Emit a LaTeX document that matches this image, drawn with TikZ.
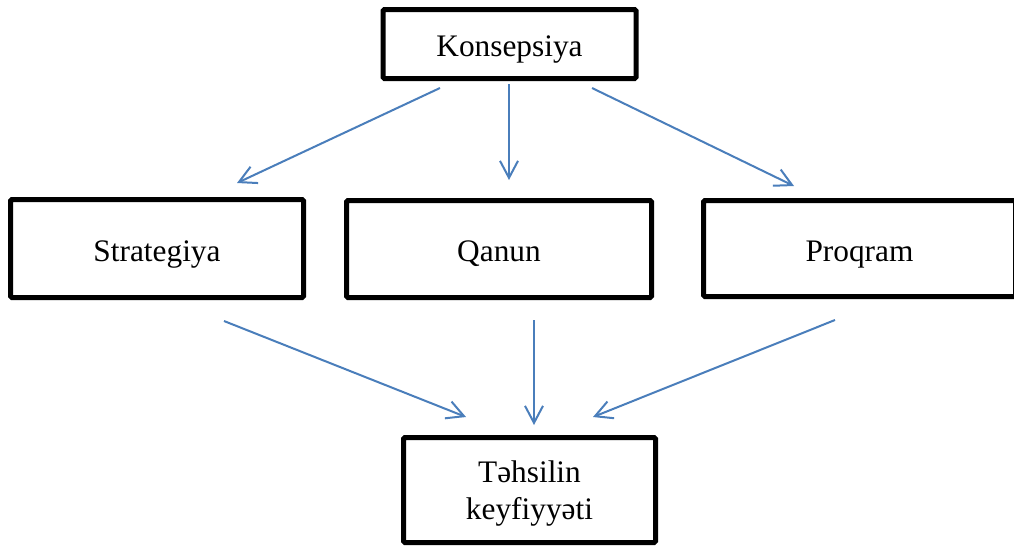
\documentclass[tikz,border=0pt]{standalone}
\usepackage{fontspec}
\setmainfont{Liberation Serif}
\usetikzlibrary{arrows.meta}
\definecolor{arrowblue}{RGB}{74,126,187}
\begin{document}
\begin{tikzpicture}[x=0.75pt,y=-0.75pt,
  box/.style={draw=black, line width=3.75pt, rounded corners=1pt, inner sep=0pt,
    font=\fontsize{23.5}{27.75}\selectfont, align=center},
  oneline/.style={text height=22pt, text depth=3.25pt},
  conn/.style={draw=arrowblue, line width=1.5pt,
    -{Straight Barb[length=12.75pt,width=13.5pt,line width=1.5pt]}}]
\useasboundingbox (0,0) rectangle (1014,547);
\node[box, oneline, minimum width=189.75pt, minimum height=51.75pt] (k) at (509.5,44) {Konsepsiya};
\node[box, oneline, minimum width=219.75pt, minimum height=73.5pt] (s) at (157,248.5) {Strategiya};
\node[box, oneline, minimum width=228.75pt, minimum height=72.75pt] (q) at (499,249) {Qanun};
\node[box, oneline, minimum width=234pt, minimum height=72pt] (p) at (859.5,248.5) {Proqram};
\node[box, text depth=-1.7pt, minimum width=189pt, minimum height=78.75pt] (t) at (529.5,490) {Təhsilin\\keyfiyyəti};
% connector end points
\coordinate (k1) at (440,88);  \coordinate (s1) at (237,183);
\coordinate (k2) at (509,84);  \coordinate (q1) at (509,180);
\coordinate (k3) at (592,88);  \coordinate (p1) at (794,186);
\coordinate (s2) at (224,321); \coordinate (t1) at (466,417);
\coordinate (q2) at (534,320); \coordinate (t2) at (534,425);
\coordinate (p2) at (835,320); \coordinate (t3) at (593,417);
\draw[conn] (k1) -- (s1);
\draw[conn] (k2) -- (q1);
\draw[conn] (k3) -- (p1);
\draw[conn] (s2) -- (t1);
\draw[conn] (q2) -- (t2);
\draw[conn] (p2) -- (t3);
\end{tikzpicture}
\end{document}
